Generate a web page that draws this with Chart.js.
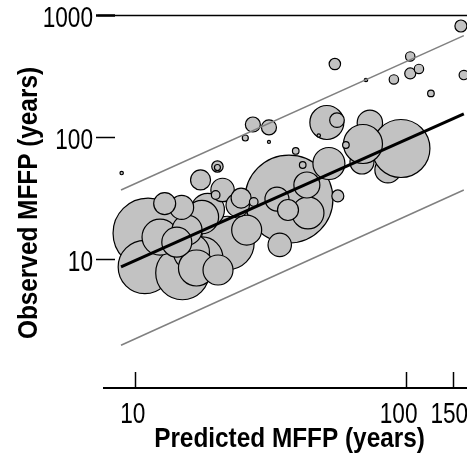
<!DOCTYPE html>
<html>
<head>
<meta charset="utf-8">
<script src="https://cdn.jsdelivr.net/npm/chart.js@4.4.1/dist/chart.umd.min.js"></script>
<style>
  body { margin: 0; background: #fff; }
  canvas { display: block; }
</style>
</head>
<body>
<canvas id="grafico" width="467" height="455"></canvas>
<script>
// predicted vs observed MFFP (years); listed in drawing order (later ones on top)
var predicted = [37.1, 11.2, 86.0, 69.0, 73.8, 96.1, 69.6, 10.9, 15.0, 22.0, 17.7,
    16.2, 16.9, 12.4, 51.2, 18.6, 17.7, 52.1, 43.6, 25.9, 20.3, 15.6, 14.3,
    43.2, 33.5, 21.1, 24.0, 34.3, 14.9, 12.9, 36.8, 17.5, 24.7,
    27.3, 31.3, 55.8, 160, 56.2, 54.8, 20.2, 104, 104, 112, 90.5, 164,
    19.9, 27.5, 124, 39.3, 41.7, 60.2, 25.6, 20.2, 71.4, 8.95, 47.8, 31.3];
var observed = [31.6, 16.6, 54.7, 63.6, 133, 82.0, 89.3, 8.76, 7.82, 13.8, 10.4,
    11.6, 8.6, 15.4, 134, 25.7, 22.5, 61.8, 24.3, 17.6, 8.28, 17.6, 14.0,
    41.2, 31.6, 37.5, 28.2, 13.3, 27.0, 29.0, 25.7, 45.3, 32.2,
    129, 122, 140, 828, 33.5, 404, 58.4, 338, 466, 368, 302, 328,
    34.1, 29.9, 232, 78.3, 60.1, 87.6, 100, 57.3, 299, 51.6, 104.8, 92.8];
var sizes = [44, 35, 13, 12, 12.7, 29, 19.5, 26.7, 26.7, 26.7, 21,
    18, 18, 18, 17, 16.7, 16.7, 16, 16, 15, 15, 15, 15,
    13, 12, 11.7, 11.7, 11.7, 12, 11, 10.5, 10, 10,
    7.5, 7.5, 7.3, 6, 6, 5.7, 5.7, 5.5, 4.7, 4.7, 4.7, 4.7,
    4.3, 4.3, 3.3, 3.3, 3.3, 3.3, 3, 3, 1.7, 1.7, 1.7, 1.5];

var ticksX = [10, 100, 150];
var ticksY = [10, 100, 1000];
var tituloX = "Predicted MFFP (years)";
var tituloY = "Observed MFFP (years)";

// reference lines: 1:1 line and the two bounds
var lineaX = [8.9, 164];
var lineaCentral = [8.8, 158];
var lineaSuperior = [37.5, 690];
var lineaInferior = [2.0, 37.5];

function puntos(xs, ys) {
    return xs.map(function (x, i) { return { x: x, y: ys[i] }; });
}

var burbujas = predicted.map(function (x, i) {
    return { x: x, y: observed[i], r: sizes[i] };
});

var ejes = {
    id: 'ejes',
    afterDraw: function (chart) {
        var ctx = chart.ctx;
        var xs = chart.scales.x, ys = chart.scales.y, a = chart.chartArea;
        ctx.save();
        ctx.strokeStyle = '#000';
        ctx.fillStyle = '#000';

        // top frame line
        var yTop = ys.getPixelForValue(1000) - 0.5;
        ctx.lineWidth = 1.5;
        ctx.beginPath();
        ctx.moveTo(98, yTop);
        ctx.lineTo(a.right, yTop);
        ctx.stroke();

        // x axis
        ctx.lineWidth = 2;
        ctx.beginPath();
        ctx.moveTo(a.left, a.bottom);
        ctx.lineTo(a.right, a.bottom);
        ctx.stroke();
        ctx.lineWidth = 1.5;
        ticksX.forEach(function (v) {
            var px = Math.round(xs.getPixelForValue(v)) + 0.5;
            ctx.beginPath();
            ctx.moveTo(px, a.bottom - 16);
            ctx.lineTo(px, a.bottom);
            ctx.stroke();
        });

        // y ticks
        ticksY.forEach(function (v) {
            var py = Math.round(ys.getPixelForValue(v)) - 0.5;
            ctx.lineWidth = v == 1000 ? 2.5 : 1.5;
            ctx.beginPath();
            ctx.moveTo(96, py);
            ctx.lineTo(115, py);
            ctx.stroke();
        });

        // tick labels
        var ajusteX = [-2, -7, -4];
        ctx.font = '29px "Liberation Sans", Arial, sans-serif';
        ctx.textBaseline = 'alphabetic';
        ticksX.forEach(function (v, i) {
            ctx.save();
            ctx.translate(xs.getPixelForValue(v) + ajusteX[i], a.bottom + 35);
            ctx.scale(0.78, 1);
            ctx.textAlign = 'center';
            ctx.fillText(String(v), 0, 0);
            ctx.restore();
        });
        ticksY.forEach(function (v) {
            ctx.save();
            ctx.translate(93, ys.getPixelForValue(v) + 10.5);
            ctx.scale(0.78, 1);
            ctx.textAlign = 'right';
            ctx.fillText(String(v), 0, 0);
            ctx.restore();
        });

        // axis titles
        ctx.font = 'bold 28px "Liberation Sans", Arial, sans-serif';
        ctx.textAlign = 'center';
        ctx.save();
        ctx.translate(289.5, 446.5);
        ctx.scale(0.87, 1);
        ctx.fillText(tituloX, 0, 0);
        ctx.restore();

        ctx.save();
        ctx.translate(37, 203);
        ctx.rotate(-Math.PI / 2);
        ctx.scale(0.87, 1);
        ctx.fillText(tituloY, 0, 0);
        ctx.restore();

        ctx.restore();
    }
};

var ctx = document.getElementById("grafico").getContext("2d");

window.myChart = new Chart(ctx, {
    type: 'bubble',
    data: {
        datasets: [{
            type: 'line',
            data: puntos(lineaX, lineaCentral),
            borderColor: '#000',
            borderWidth: 3,
            pointRadius: 0,
            order: 0
        }, {
            type: 'line',
            data: puntos(lineaX, lineaSuperior),
            borderColor: '#808080',
            borderWidth: 1.5,
            pointRadius: 0,
            order: 1
        }, {
            type: 'line',
            data: puntos(lineaX, lineaInferior),
            borderColor: '#808080',
            borderWidth: 1.5,
            pointRadius: 0,
            order: 1
        }, {
            type: 'bubble',
            data: burbujas,
            backgroundColor: '#c2c2c2',
            borderColor: '#000',
            borderWidth: 1.2,
            order: 2
        }]
    },
    options: {
        responsive: false,
        devicePixelRatio: 1,
        animation: false,
        events: [],
        clip: false,
        layout: {
            autoPadding: false,
            padding: { left: 103, right: 0, top: 16, bottom: 67 }
        },
        scales: {
            x: { type: 'logarithmic', min: 7.637, max: 168.5, display: false },
            y: { type: 'logarithmic', min: 0.893, max: 1000, display: false }
        },
        plugins: {
            legend: { display: false },
            tooltip: { enabled: false }
        }
    },
    plugins: [ejes]
});
</script>
</body>
</html>
